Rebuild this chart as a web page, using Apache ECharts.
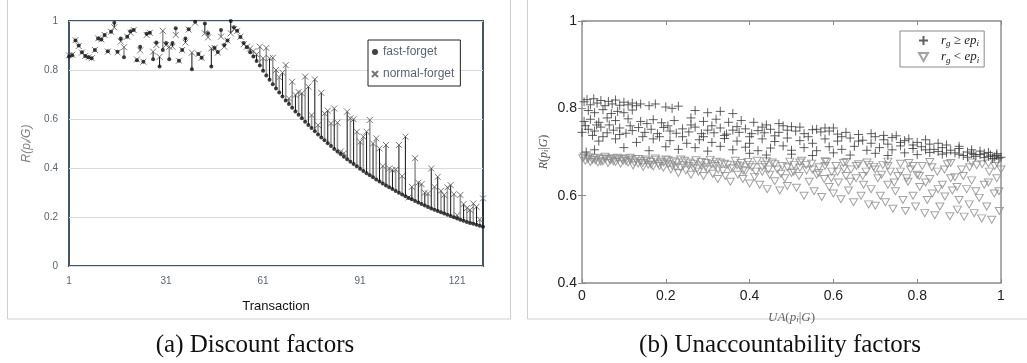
<!DOCTYPE html>
<html>
<head>
<meta charset="utf-8">
<script src="https://cdn.jsdelivr.net/npm/echarts@6/dist/echarts.min.js"></script>
<style>
  html, body { margin: 0; padding: 0; background: #fff; }
  #chart { width: 1027px; height: 363px; }
</style>
</head>
<body>
<div id="chart"></div>
<script>
// (a) discount factors: one value per transaction
var fastForget = [
  0.855, 0.86, 0.92, 0.9, 0.872, 0.857, 0.852, 0.848, 0.882, 0.929,
  0.925, 0.943, 0.877, 0.956, 0.993, 0.874, 0.929, 0.852, 0.936, 0.958,
  0.963, 0.84, 0.895, 0.834, 0.948, 0.952, 0.844, 0.912, 0.814, 0.882,
  0.91, 0.844, 0.91, 0.97, 0.838, 0.882, 0.929, 0.966, 0.803, 0.997,
  0.865, 0.85, 0.99, 0.95, 0.814, 0.89, 0.873, 0.963, 0.902, 0.92,
  1.0, 0.975, 0.96, 0.935, 0.91, 0.893, 0.872, 0.855, 0.837, 0.818,
  0.797, 0.778, 0.76, 0.742, 0.725, 0.708, 0.692, 0.676, 0.661, 0.646,
  0.631, 0.617, 0.603, 0.589, 0.576, 0.563, 0.55, 0.537, 0.525, 0.513,
  0.501, 0.49, 0.478, 0.467, 0.457, 0.446, 0.436, 0.426, 0.416, 0.407,
  0.397, 0.388, 0.379, 0.37, 0.362, 0.353, 0.345, 0.337, 0.329, 0.321,
  0.314, 0.306, 0.299, 0.292, 0.285, 0.278, 0.272, 0.265, 0.259, 0.253,
  0.247, 0.241, 0.235, 0.23, 0.224, 0.219, 0.214, 0.209, 0.204, 0.199,
  0.194, 0.189, 0.185, 0.18, 0.176, 0.172, 0.168, 0.164, 0.16
];
var normalForget = [
  0.86, 0.862, 0.922, 0.898, 0.871, 0.857, 0.852, 0.848, 0.882, 0.929,
  0.925, 0.943, 0.875, 0.956, 0.974, 0.872, 0.916, 0.893, 0.936, 0.952,
  0.963, 0.843, 0.88, 0.834, 0.943, 0.952, 0.875, 0.902, 0.854, 0.96,
  0.902, 0.895, 0.895, 0.943, 0.838, 0.882, 0.912, 0.965, 0.871, 0.993,
  0.865, 0.85, 0.95, 0.933, 0.888, 0.89, 0.871, 0.936, 0.895, 0.92,
  0.95, 0.967, 0.959, 0.936, 0.905, 0.895, 0.888, 0.877, 0.864, 0.895,
  0.848, 0.89, 0.848, 0.85, 0.8, 0.77, 0.789, 0.82, 0.684, 0.752,
  0.698, 0.71, 0.705, 0.773, 0.732, 0.616, 0.762, 0.575, 0.707, 0.623,
  0.634, 0.582, 0.643, 0.585, 0.467, 0.46, 0.63, 0.603, 0.599, 0.548,
  0.507, 0.528, 0.548, 0.596, 0.5, 0.521, 0.48, 0.408, 0.494, 0.398,
  0.392, 0.394, 0.494, 0.367, 0.528, 0.28, 0.323, 0.44, 0.34, 0.334,
  0.299, 0.296, 0.398, 0.323, 0.364, 0.307, 0.29, 0.321, 0.33, 0.293,
  0.207, 0.29, 0.253, 0.236, 0.229, 0.255, 0.242, 0.19, 0.276
];
var transactions = fastForget.map(function (v, i) { return String(i + 1); });

// (b) unaccountability factors: [UA, R]
var rgAbove = [
  [0.005,0.815],[0.012,0.82],[0.02,0.808],[0.028,0.822],[0.036,0.812],[0.045,0.818],[0.055,0.806],[0.063,0.816],
  [0.072,0.81],[0.08,0.819],[0.09,0.807],[0.1,0.814],[0.11,0.808],[0.12,0.812],[0.13,0.806],[0.14,0.81],[0.16,0.806],[0.175,0.81],
  [0.015,0.795],[0.03,0.79],[0.05,0.797],[0.07,0.788],[0.085,0.793],[0.1,0.79],[0.12,0.796],[0.2,0.803],[0.215,0.8],
  [0.23,0.805],[0.27,0.795],[0.3,0.79],[0.33,0.793],[0.36,0.788],
  [0.005,0.77],[0.02,0.775],[0.04,0.768],[0.06,0.778],[0.08,0.772],[0.11,0.776],[0.14,0.77],[0.17,0.774],[0.19,0.767],
  [0.22,0.772],[0.26,0.778],[0.29,0.77],[0.32,0.775],[0.35,0.768],[0.38,0.772],[0.41,0.768],[0.44,0.762],[0.47,0.765],
  [0.0,0.745],[0.015,0.752],[0.03,0.748],[0.045,0.757],[0.06,0.744],[0.075,0.75],[0.09,0.755],[0.105,0.743],[0.12,0.749],
  [0.135,0.756],[0.15,0.745],[0.165,0.752],[0.18,0.742],[0.195,0.756],[0.21,0.748],[0.225,0.743],[0.24,0.753],[0.255,0.746],
  [0.27,0.757],[0.285,0.742],[0.3,0.75],[0.315,0.744],[0.33,0.755],[0.345,0.741],[0.36,0.75],[0.375,0.745],[0.39,0.753],
  [0.405,0.742],[0.42,0.749],[0.435,0.744],[0.45,0.752],[0.47,0.745],[0.49,0.75],[0.51,0.748],[0.53,0.742],[0.55,0.751],
  [0.57,0.746],[0.59,0.748],[0.61,0.741],[0.63,0.745],
  [0.04,0.725],[0.08,0.73],[0.13,0.722],[0.17,0.73],[0.21,0.726],[0.25,0.72],[0.28,0.728],[0.31,0.722],[0.34,0.731],
  [0.37,0.725],[0.4,0.72],[0.43,0.73],[0.46,0.724],[0.49,0.732],[0.52,0.726],[0.55,0.72],[0.58,0.73],[0.61,0.725],
  [0.64,0.732],[0.67,0.727],[0.7,0.735],[0.72,0.728],[0.74,0.733],[0.77,0.726],[0.8,0.722],[0.83,0.718],
  [0.01,0.7],[0.03,0.705],[0.1,0.71],[0.16,0.703],[0.2,0.712],[0.23,0.706],[0.27,0.71],[0.3,0.702],[0.33,0.713],
  [0.36,0.705],[0.39,0.711],[0.42,0.703],[0.45,0.709],[0.48,0.714],[0.5,0.704],[0.53,0.71],[0.56,0.703],[0.59,0.712],
  [0.62,0.706],[0.65,0.713],[0.68,0.704],[0.71,0.71],[0.74,0.705],[0.76,0.714],[0.79,0.708],[0.81,0.712],[0.84,0.706],
  [0.86,0.71],[0.88,0.704],[0.9,0.708],
  [0.4,0.697],[0.44,0.693],[0.5,0.695],[0.55,0.692],[0.6,0.698],[0.64,0.693],[0.7,0.697],[0.73,0.692],[0.77,0.698],
  [0.8,0.694],[0.83,0.699],[0.86,0.695],[0.89,0.698],[0.91,0.692],[0.93,0.697],[0.95,0.694],[0.97,0.69],[0.99,0.692],
  [1.0,0.688],[0.96,0.687],[0.98,0.685],[0.92,0.688],
  [0.48,0.76],[0.52,0.757],[0.56,0.752],[0.6,0.755],[0.66,0.74],[0.69,0.742],[0.72,0.738],[0.75,0.737],[0.78,0.73],
  [0.82,0.728],[0.85,0.72],[0.87,0.716],[0.9,0.713],[0.93,0.705],[0.95,0.702],[0.97,0.699],[0.99,0.696],
  [0.008,0.76],[0.025,0.738],[0.035,0.762],[0.05,0.735],[0.065,0.762],[0.09,0.74],[0.115,0.76],[0.145,0.735],[0.155,0.765],
  [0.185,0.735],[0.205,0.76],[0.24,0.735],[0.26,0.762],[0.29,0.735],[0.31,0.76],[0.34,0.738],[0.37,0.758],[0.4,0.735],
  [0.43,0.757],[0.46,0.737],[0.5,0.758],[0.54,0.735],[0.58,0.755],[0.62,0.735],[0.66,0.725],[0.69,0.72],[0.73,0.718],
  [0.76,0.722],[0.79,0.716],[0.82,0.705],[0.85,0.701],[0.87,0.698],[0.9,0.695],[0.92,0.7],[0.94,0.69],[0.96,0.697],
  [0.975,0.693],[0.985,0.689],[0.995,0.686],[0.935,0.694]
];
var rgBelow = [
  [0.002,0.686],[0.008,0.68],[0.014,0.684],[0.02,0.677],[0.026,0.686],[0.032,0.681],[0.038,0.676],[0.044,0.684],[0.05,0.679],
  [0.056,0.685],[0.062,0.675],[0.068,0.681],[0.074,0.686],[0.08,0.677],[0.086,0.683],[0.092,0.673],[0.098,0.68],
  [0.104,0.685],[0.11,0.676],[0.116,0.681],[0.122,0.669],[0.128,0.684],[0.134,0.674],[0.14,0.679],[0.146,0.666],[0.152,0.683],
  [0.158,0.671],[0.164,0.677],[0.17,0.667],[0.176,0.682],[0.182,0.673],[0.188,0.678],[0.194,0.664],[0.2,0.683],
  [0.206,0.672],[0.212,0.66],[0.218,0.679],[0.224,0.666],[0.23,0.652],[0.236,0.683],[0.242,0.67],[0.248,0.658],[0.254,0.676],
  [0.26,0.648],[0.266,0.664],[0.272,0.681],[0.278,0.655],[0.284,0.669],[0.29,0.645],[0.296,0.675],[0.3,0.66],
  [0.306,0.682],[0.312,0.65],[0.318,0.668],[0.324,0.638],[0.33,0.676],[0.336,0.657],[0.342,0.645],[0.348,0.671],[0.354,0.632],
  [0.36,0.663],[0.366,0.68],[0.372,0.648],[0.378,0.667],[0.384,0.638],[0.39,0.656],[0.396,0.677],[0.4,0.628],
  [0.406,0.665],[0.412,0.643],[0.418,0.68],[0.424,0.625],[0.43,0.655],[0.436,0.671],[0.442,0.615],[0.448,0.648],[0.454,0.676],
  [0.46,0.633],[0.466,0.66],[0.472,0.612],[0.478,0.668],[0.484,0.64],[0.49,0.622],[0.496,0.678],[0.5,0.652],
  [0.506,0.67],[0.512,0.618],[0.518,0.645],[0.524,0.68],[0.53,0.6],[0.536,0.658],[0.542,0.632],[0.548,0.673],[0.554,0.61],
  [0.56,0.648],[0.566,0.665],[0.572,0.597],[0.578,0.638],[0.584,0.677],[0.59,0.62],[0.596,0.655],[0.6,0.605],
  [0.606,0.668],[0.612,0.63],[0.618,0.592],[0.624,0.675],[0.63,0.645],[0.636,0.612],[0.642,0.66],[0.648,0.585],[0.654,0.64],
  [0.66,0.672],[0.666,0.6],[0.672,0.625],[0.678,0.655],[0.684,0.58],[0.69,0.615],[0.696,0.666],[0.7,0.577],
  [0.706,0.64],[0.712,0.6],[0.718,0.67],[0.724,0.585],[0.73,0.625],[0.736,0.655],[0.742,0.57],[0.748,0.61],[0.754,0.645],
  [0.76,0.673],[0.766,0.59],[0.772,0.565],[0.778,0.632],[0.784,0.66],[0.79,0.6],[0.796,0.575],[0.8,0.648],
  [0.806,0.62],[0.812,0.668],[0.818,0.56],[0.824,0.59],[0.83,0.638],[0.836,0.605],[0.842,0.555],[0.848,0.655],[0.854,0.575],
  [0.86,0.625],[0.866,0.598],[0.872,0.672],[0.878,0.553],[0.884,0.612],[0.89,0.642],[0.896,0.568],[0.9,0.59],
  [0.906,0.66],[0.912,0.552],[0.918,0.615],[0.924,0.58],[0.93,0.635],[0.936,0.56],[0.942,0.67],[0.948,0.595],[0.954,0.548],
  [0.96,0.625],[0.966,0.575],[0.972,0.655],[0.978,0.545],[0.984,0.605],[0.99,0.64],[0.996,0.565],[1.0,0.66],
  [0.32,0.678],[0.38,0.675],[0.44,0.679],[0.52,0.676],[0.58,0.679],[0.63,0.677],[0.68,0.676],[0.73,0.678],[0.78,0.675],
  [0.83,0.677],[0.88,0.675],[0.93,0.676],[0.97,0.674],[0.99,0.676],
  [0.005,0.69],[0.015,0.688],[0.025,0.682],[0.035,0.687],[0.045,0.678],[0.055,0.689],[0.065,0.684],[0.075,0.679],[0.085,0.687],
  [0.095,0.684],[0.105,0.679],[0.115,0.687],[0.125,0.676],[0.135,0.684],[0.145,0.675],[0.155,0.68],[0.165,0.671],[0.175,0.685],
  [0.185,0.668],[0.195,0.676],[0.205,0.681],[0.215,0.669],[0.225,0.676],[0.235,0.664],[0.245,0.68],[0.255,0.668],[0.265,0.673],
  [0.275,0.662],[0.285,0.677],[0.295,0.665],[0.31,0.672],[0.325,0.66],[0.34,0.673],[0.355,0.662],[0.37,0.67],[0.385,0.658],
  [0.4,0.67],[0.415,0.655],[0.43,0.665],[0.445,0.66],[0.46,0.672],[0.475,0.65],[0.49,0.665],[0.505,0.655],[0.52,0.664],
  [0.535,0.67],[0.55,0.66],[0.565,0.652],[0.58,0.668],[0.595,0.64],[0.61,0.655],[0.625,0.662],[0.64,0.632],[0.655,0.668],
  [0.67,0.645],[0.685,0.67],[0.7,0.66],[0.715,0.648],[0.73,0.668],[0.745,0.63],[0.76,0.655],[0.775,0.64],[0.79,0.668],
  [0.805,0.645],[0.82,0.63],[0.835,0.665],[0.85,0.615],[0.865,0.66],[0.88,0.64],[0.895,0.62],[0.91,0.645],[0.925,0.665],
  [0.94,0.61],[0.955,0.672],[0.97,0.63],[0.985,0.668],[0.995,0.61]
];

var myChart = echarts.init(document.getElementById('chart'));

var plusPath = 'path://M5,0L5,10M0,5L10,5';
var crossPath = 'path://M0,0L10,10M10,0L0,10';
var triPath = 'path://M0,0L10,0L5,9Z';
var serif = 'Liberation Serif';
var excelText = '#5b6474';

var option = {
  animation: false,
  graphic: [
    { type: 'rect', silent: true, z: -10, shape: { x: 7.5, y: -2, width: 503, height: 321 },
      style: { fill: 'none', stroke: '#d0d0d0', lineWidth: 1 } },
    { type: 'rect', silent: true, z: -10, shape: { x: 527.5, y: -2, width: 510, height: 321 },
      style: { fill: 'none', stroke: '#d0d0d0', lineWidth: 1 } },
    { type: 'text', x: 255, y: 345,
      style: { text: '(a) Discount factors', font: '25px "Liberation Serif"', fill: '#111',
               textAlign: 'center', textVerticalAlign: 'middle' } },
    { type: 'text', x: 780, y: 345,
      style: { text: '(b) Unaccountability factors', font: '25px "Liberation Serif"', fill: '#111',
               textAlign: 'center', textVerticalAlign: 'middle' } }
  ],
  grid: [
    { left: 69, top: 21, width: 414, height: 245, show: true, borderColor: '#44546a', borderWidth: 2 },
    { left: 582, top: 21, width: 419, height: 262, show: true, borderColor: '#8a8a8a', borderWidth: 1.4 }
  ],
  legend: [
    {
      data: ['fast-forget', 'normal-forget'],
      orient: 'vertical', left: 368, top: 40,
      padding: [6, 6, 6, 3], itemGap: 10, itemWidth: 6, itemHeight: 6,
      borderColor: '#222', borderWidth: 1, backgroundColor: '#fff',
      textStyle: { color: excelText, fontSize: 12, fontFamily: 'Liberation Sans' }
    },
    {
      data: ['ge', 'lt'],
      orient: 'vertical', left: 900, top: 31,
      padding: [3, 5, 2, 18], itemGap: 2, itemWidth: 9, itemHeight: 9,
      borderColor: '#8a8a8a', borderWidth: 1, backgroundColor: '#fff',
      formatter: function (name) {
        return name === 'ge'
          ? '{w|}{i|r}{s|g}{n| ≥ }{i|ep}{s|i}'
          : '{w|}{i|r}{s|g}{n| < }{i|ep}{s|i}';
      },
      textStyle: {
        rich: {
          w: { width: 8 },
          i: { fontFamily: serif, fontStyle: 'italic', fontSize: 13, color: '#222', lineHeight: 16 },
          s: { fontFamily: serif, fontStyle: 'italic', fontSize: 9, color: '#222', lineHeight: 16, verticalAlign: 'bottom', padding: [4, 0, 0, 0] },
          n: { fontFamily: serif, fontSize: 13, color: '#222', lineHeight: 16 }
        }
      }
    }
  ],
  xAxis: [
    {
      gridIndex: 0, type: 'category', data: transactions, boundaryGap: false,
      name: 'Transaction', nameLocation: 'middle', nameGap: 34,
      nameTextStyle: { color: '#111', fontSize: 13, fontFamily: 'Liberation Sans' },
      axisLine: { show: false }, axisTick: { show: false }, splitLine: { show: false },
      axisLabel: { interval: 29, color: excelText, fontSize: 10, margin: 10, fontFamily: 'Liberation Sans' }
    },
    {
      gridIndex: 1, type: 'value', min: 0, max: 1, interval: 0.2,
      name: '{i|UA}{n|(}{i|p}{s|i}{n||}{i|G}{n|)}', nameLocation: 'middle', nameGap: 28,
      nameTextStyle: {
        rich: {
          i: { fontFamily: serif, fontStyle: 'italic', fontSize: 13, color: '#666' },
          n: { fontFamily: serif, fontSize: 13, color: '#666' },
          s: { fontFamily: serif, fontStyle: 'italic', fontSize: 9, color: '#666', verticalAlign: 'bottom' }
        }
      },
      axisLine: { show: false },
      axisTick: { show: true, inside: true, length: 4, lineStyle: { color: '#8a8a8a' } },
      splitLine: { show: false },
      axisLabel: { color: '#222', fontSize: 14, margin: 6, fontFamily: 'Liberation Sans' }
    },
    {
      gridIndex: 1, type: 'value', min: 0, max: 1, interval: 0.2, position: 'top',
      axisLine: { show: false },
      axisTick: { show: true, inside: true, length: 4, lineStyle: { color: '#8a8a8a' } },
      splitLine: { show: false }, axisLabel: { show: false }
    }
  ],
  yAxis: [
    {
      gridIndex: 0, type: 'value', min: 0, max: 1, interval: 0.2,
      name: '{i|R}{n|(}{i|p}{s|i}{n|/}{i|G}{n|)}', nameLocation: 'middle', nameGap: 36,
      nameTextStyle: {
        rich: {
          i: { fontStyle: 'italic', fontSize: 12, color: '#7f7f7f', fontFamily: 'Liberation Sans' },
          n: { fontStyle: 'italic', fontSize: 12, color: '#7f7f7f', fontFamily: 'Liberation Sans' },
          s: { fontStyle: 'italic', fontSize: 8, color: '#7f7f7f', fontFamily: 'Liberation Sans', verticalAlign: 'bottom' }
        }
      },
      axisLine: { show: false }, axisTick: { show: false },
      splitLine: { show: true, lineStyle: { color: '#d9d9d9', width: 1 } },
      axisLabel: { color: excelText, fontSize: 10, margin: 11, fontFamily: 'Liberation Sans' }
    },
    {
      gridIndex: 1, type: 'value', min: 0.4, max: 1, interval: 0.2,
      name: '{i|R}{n|(}{i|p}{s|i}{n||}{i|G}{n|)}', nameLocation: 'middle', nameGap: 32,
      nameTextStyle: {
        rich: {
          i: { fontFamily: serif, fontStyle: 'italic', fontSize: 12, color: '#555' },
          n: { fontFamily: serif, fontSize: 12, color: '#555' },
          s: { fontFamily: serif, fontStyle: 'italic', fontSize: 8, color: '#555', verticalAlign: 'bottom' }
        }
      },
      axisLine: { show: false },
      axisTick: { show: true, inside: true, length: 4, lineStyle: { color: '#8a8a8a' } },
      splitLine: { show: false },
      axisLabel: { color: '#222', fontSize: 14, margin: 5, fontFamily: 'Liberation Sans' }
    },
    {
      gridIndex: 1, type: 'value', min: 0.4, max: 1, interval: 0.2, position: 'right',
      axisLine: { show: false },
      axisTick: { show: true, inside: true, length: 4, lineStyle: { color: '#8a8a8a' } },
      splitLine: { show: false }, axisLabel: { show: false }
    }
  ],
  series: [
    {
      // high-low lines between the two forgetting schemes
      name: 'gap', type: 'custom', xAxisIndex: 0, yAxisIndex: 0, silent: true,
      data: fastForget.map(function (v, i) { return [i, v, normalForget[i]]; }),
      encode: { x: 0, y: [1, 2] },
      renderItem: function (params, api) {
        var a = api.coord([api.value(0), api.value(1)]);
        var b = api.coord([api.value(0), api.value(2)]);
        var odd = params.dataIndex % 2 === 1;
        return {
          type: 'line',
          shape: { x1: a[0], y1: a[1], x2: b[0], y2: b[1] },
          style: { stroke: odd ? '#9a9a9a' : '#111', lineWidth: odd ? 1.6 : 1 }
        };
      },
      z: 1
    },
    {
      name: 'fast-forget', type: 'scatter', xAxisIndex: 0, yAxisIndex: 0,
      data: fastForget, symbol: 'circle', symbolSize: 4,
      itemStyle: { color: '#111' }, z: 3
    },
    {
      name: 'normal-forget', type: 'scatter', xAxisIndex: 0, yAxisIndex: 0,
      data: normalForget, symbol: crossPath, symbolSize: 6,
      itemStyle: { color: 'transparent', borderColor: '#555', borderWidth: 1 }, z: 2
    },
    {
      name: 'lt', type: 'scatter', xAxisIndex: 1, yAxisIndex: 1,
      data: rgBelow, symbol: triPath, symbolSize: [8, 7],
      itemStyle: { color: 'transparent', borderColor: '#8c8c8c', borderWidth: 1 }, z: 2
    },
    {
      name: 'ge', type: 'scatter', xAxisIndex: 1, yAxisIndex: 1,
      data: rgAbove, symbol: plusPath, symbolSize: 9,
      itemStyle: { color: 'transparent', borderColor: '#3a3a3a', borderWidth: 1 }, z: 3
    }
  ]
};

myChart.setOption(option);
</script>
</body>
</html>
